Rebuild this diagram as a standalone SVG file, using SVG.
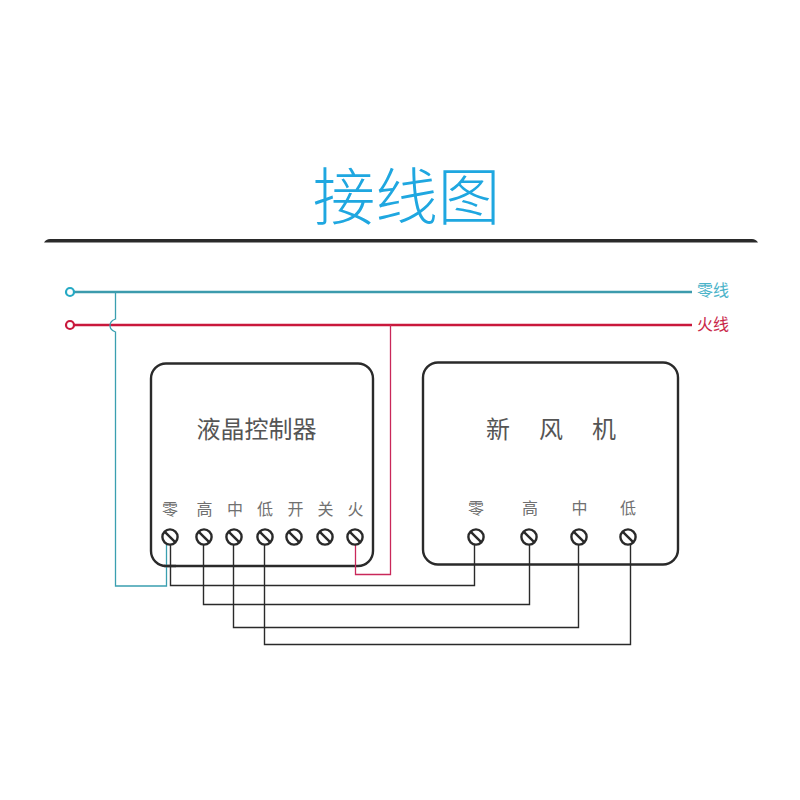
<svg xmlns="http://www.w3.org/2000/svg" width="800" height="800" viewBox="0 0 800 800">
<style>
text{font-family:"Noto Sans CJK SC","Liberation Sans",sans-serif;text-anchor:middle}
.box{fill:#fff;stroke:#2a2a2a;stroke-width:2.4}
.lbl{font-size:16px;fill:#707070}
.name{font-size:24px;fill:#555}
.w{fill:none;stroke:#2a2a2a;stroke-width:1.4}
.screw circle{fill:#fff;stroke:#2a2a2a;stroke-width:2.4}
.screw line{stroke:#2a2a2a;stroke-width:2.4}
</style>
<defs>
<g id="screw" class="screw"><circle r="7.6"/><line x1="-5.4" y1="-5.4" x2="5.4" y2="5.4"/></g>
</defs>
<rect width="800" height="800" fill="#fff"/>
<text id="title" x="406.500" y="219.500" style="font-size:62.500px;fill:#1fa7e0;font-weight:300">接线图</text>
<path id="rule" d="M44 242.500Q46 239 50 239H752Q756 239 758 242.500Z" fill="#2a2a2a"/>
<g id="node-controller">
<rect class="box" x="151" y="363.500" width="222" height="202.500" rx="15"/>
<text class="name" x="256.500" y="438">液晶控制器</text>
<text class="lbl" x="170" y="515">零</text>
<text class="lbl" x="204.500" y="515">高</text>
<text class="lbl" x="235" y="515">中</text>
<text class="lbl" x="265" y="515">低</text>
<text class="lbl" x="295.500" y="515">开</text>
<text class="lbl" x="325.500" y="515">关</text>
<text class="lbl" x="355.500" y="515">火</text>
</g>
<g id="node-fan">
<rect class="box" x="423" y="362.500" width="255" height="202" rx="15"/>
<text class="name" x="498" y="438">新</text>
<text class="name" x="551" y="438">风</text>
<text class="name" x="604" y="438">机</text>
<text class="lbl" x="476" y="514">零</text>
<text class="lbl" x="530" y="514">高</text>
<text class="lbl" x="579.500" y="514">中</text>
<text class="lbl" x="628" y="514">低</text>
</g>
<g id="connectors">
<path class="w" d="M170.500 545V585.500H474.500V545"/>
<path class="w" d="M203.500 545V604.500H529.500V545"/>
<path class="w" d="M233.500 545V627.500H578.500V545"/>
<path class="w" d="M264.500 545V644.500H630.500V545"/>
<path d="M74 325H692" fill="none" stroke="#c9183c" stroke-width="2.400"/>
<path d="M355.500 545V574.500H390.500V325" fill="none" stroke="#c9285a" stroke-width="1.300"/>
<path d="M74 292H692" fill="none" stroke="#3c9bad" stroke-width="2.400"/>
<path d="M115.500 292V319Q110 321 110 325.500Q110 330 115.500 332V586H166.500V545" fill="none" stroke="#3a9fb0" stroke-width="1.300"/>
<path d="M164 566H176" fill="none" stroke="#2a2a2a" stroke-width="2.400"/>
</g>
<g id="terminal-neutral"><circle cx="70" cy="292" r="4" fill="#fff" stroke="#25a9c4" stroke-width="2.200"/><text x="713" y="296" style="font-size:16px;fill:#4bb3c9">零线</text></g>
<g id="terminal-live"><circle cx="70" cy="325" r="4" fill="#fff" stroke="#c9183c" stroke-width="2.200"/><text x="713" y="330" style="font-size:16px;fill:#c9284a">火线</text></g>
<g id="screws-controller">
<use href="#screw" x="170" y="537"/><use href="#screw" x="204" y="537"/><use href="#screw" x="234" y="537"/><use href="#screw" x="265" y="537"/><use href="#screw" x="294" y="537"/><use href="#screw" x="325" y="537"/><use href="#screw" x="355" y="537"/>
</g>
<g id="screws-fan">
<use href="#screw" x="476" y="537"/><use href="#screw" x="529" y="537"/><use href="#screw" x="579" y="537"/><use href="#screw" x="628" y="537"/>
</g>
</svg>
